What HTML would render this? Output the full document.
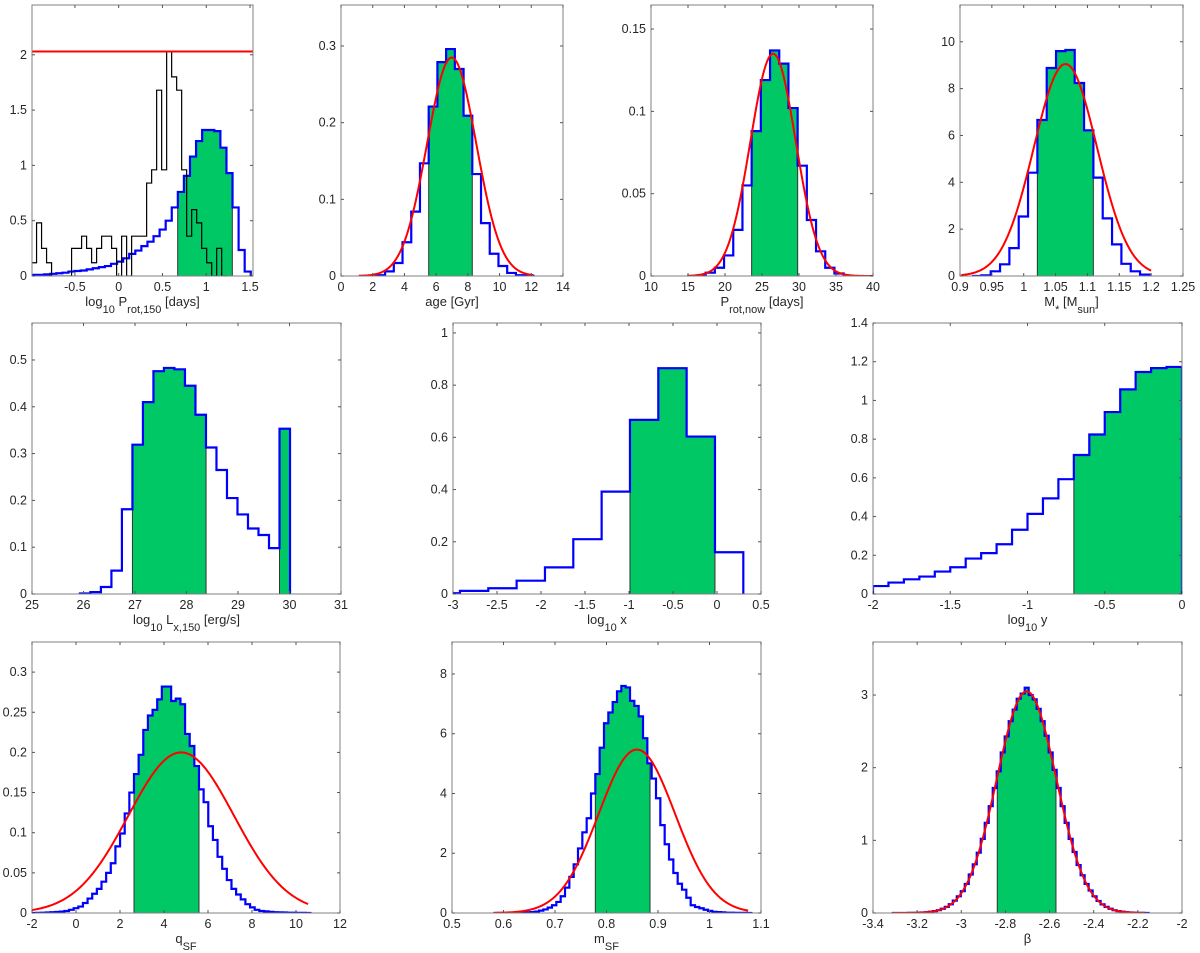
<!DOCTYPE html>
<html><head><meta charset="utf-8">
<style>
html,body{margin:0;padding:0;background:#fff;}
svg{display:block;font-family:"Liberation Sans",Arial,sans-serif;}
</style></head>
<body>
<svg id="fig" width="1200" height="953" viewBox="0 0 1200 953" xmlns="http://www.w3.org/2000/svg"></svg>
<script>
// ---------- data ----------
const protBinStart = -0.99, protBinWidth = 0.0694;
const protHeights = [0.01,0.01,0.015,0.02,0.025,0.03,0.04,0.045,0.05,0.06,0.07,0.08,0.09,0.11,0.13,0.16,0.2,0.23,0.27,0.31,0.36,0.42,0.5,0.62,0.76,0.905,1.08,1.22,1.32,1.32,1.31,1.16,0.93,0.62,0.235,0.04];
const protCI = [[0.674,1.298]];
const obsBinStart = -0.995, obsBinWidth = 0.05714;
const obsHeights = [0.12,0.48,0.25,0.12,0,0,0,0,0.25,0.25,0.36,0.25,0.12,0.25,0.36,0.36,0.25,0,0.36,0,0.36,0.36,0.36,0.84,0.96,1.68,0.96,2.03,1.8,1.68,0.96,0.36,0.6,0.48,0.25,0.12,0,0.25,0];
const obsMaxLine = [2.03];
const ageBinStart = 1.13, ageBinWidth = 0.55;
const ageHeights = [0,0,0.001,0.006,0.017,0.044,0.084,0.147,0.221,0.279,0.296,0.27,0.209,0.133,0.069,0.029,0.013,0.004,0.001,0.0005];
const ageCI = [[5.53,8.28]];
const ageFit = [6.98,1.55,0.285,1.13,12.1];
const pnowBinStart = 14.9, pnowBinWidth = 1.243;
const pnowHeights = [0,0.0003,0.002,0.005,0.0125,0.028,0.055,0.088,0.119,0.137,0.129,0.102,0.067,0.034,0.015,0.005,0.0015,0.0002];
const pnowCI = [[23.6,29.82]];
const pnowFit = [26.5,3.06,0.135,14.9,40];
const massBinStart = 0.9189, massBinWidth = 0.01465;
const massHeights = [0,0.03,0.2,0.5,1.19,2.54,4.41,6.66,8.88,9.6,9.65,8.24,6.22,4.2,2.46,1.35,0.52,0.2,0.06];
const massCI = [[1.0214,1.1093]];
const massFit = [1.0655,0.0496,9.05,0.902,1.2];
const lxBinStart = 25.93, lxBinWidth = 0.204;
const lxHeights = [0.001,0.004,0.015,0.05,0.181,0.319,0.41,0.476,0.483,0.48,0.445,0.383,0.313,0.265,0.205,0.17,0.14,0.126,0.098,0.353];
const lxCI = [[26.95,28.38],[29.806,30.01]];
const lxxBinStart = -3.243, lxxBinWidth = 0.322;
const lxxHeights = [0.003,0.012,0.022,0.051,0.102,0.21,0.392,0.667,0.865,0.603,0.16];
const lxxCI = [[-0.989,-0.023]];
const lyBinStart = -2, lyBinWidth = 0.1;
const lyHeights = [0.041,0.059,0.076,0.09,0.116,0.138,0.183,0.211,0.257,0.332,0.414,0.494,0.593,0.718,0.824,0.94,1.057,1.147,1.167,1.173];
const lyCI = [[-0.7,0]];
const qBinStart = -2.006, qBinWidth = 0.211;
const qHeights = [0.0001,0.0002,0.0004,0.0006,0.0009,0.0012,0.0018,0.0025,0.004,0.006,0.008,0.0125,0.018,0.024,0.03,0.039,0.05,0.062,0.083,0.099,0.124,0.15,0.173,0.197,0.228,0.246,0.253,0.266,0.282,0.282,0.264,0.267,0.26,0.223,0.208,0.183,0.154,0.138,0.108,0.091,0.07,0.055,0.041,0.03,0.023,0.017,0.011,0.007,0.004,0.0025,0.002,0.0015,0.001,0.0008,0.0006,0.0004,0.0003,0.0002,0.0002,0.0001];
const qCI = [[2.636,5.59]];
const qFit = [4.78,2.4,0.2,-2,10.55];
const mBinStart = 0.5848, mBinWidth = 0.008414;
const mHeights = [0.001,0.001,0.002,0.004,0.006,0.01,0.015,0.02,0.03,0.045,0.08,0.12,0.18,0.26,0.37,0.56,0.85,1.21,1.63,2.16,2.7,3.17,4.0,4.65,5.53,6.35,6.71,7.06,7.42,7.6,7.55,7.1,6.93,6.58,5.85,5.01,4.5,3.84,2.94,2.3,1.79,1.34,0.98,0.78,0.51,0.26,0.2,0.16,0.11,0.07,0.04,0.03,0.02,0.01,0.01,0.005,0.005,0.003,0.002];
const mCI = [[0.7783,0.8845]];
const mFit = [0.859,0.0742,5.47,0.58,1.075];
const bBinStart = -3.31, bBinWidth = 0.0181;
const bHeights = [0.0002,0.0003,0.0005,0.0009,0.0016,0.0027,0.0043,0.007,0.011,0.017,0.026,0.039,0.058,0.084,0.12,0.17,0.23,0.3,0.4,0.53,0.67,0.83,1.02,1.24,1.47,1.72,1.95,2.21,2.43,2.64,2.8,2.95,3.02,3.1,3.0,2.94,2.81,2.64,2.44,2.21,1.97,1.72,1.47,1.24,1.02,0.84,0.66,0.52,0.4,0.31,0.23,0.166,0.119,0.084,0.058,0.039,0.026,0.017,0.011,0.007,0.0043,0.0027,0.0016,0.0009];
const bCI = [[-2.837,-2.571]];
const bFit = [-2.704,0.1347,3.05,-3.31,-2.17];

const t1x=['-0.5','0','0.5','1','1.5'], t1y=['0','0.5','1','1.5','2'];
const t2x=['0','2','4','6','8','10','12','14'], t2y=['0','0.1','0.2','0.3'];
const t3x=['10','15','20','25','30','35','40'], t3y=['0','0.05','0.1','0.15'];
const t4x=['0.9','0.95','1','1.05','1.1','1.15','1.2','1.25'], t4y=['0','2','4','6','8','10'];
const t5x=['25','26','27','28','29','30','31'], t5y=['0','0.1','0.2','0.3','0.4','0.5'];
const t6x=['-3','-2.5','-2','-1.5','-1','-0.5','0','0.5'], t6y=['0','0.2','0.4','0.6','0.8','1'];
const t7x=['-2','-1.5','-1','-0.5','0'], t7y=['0','0.2','0.4','0.6','0.8','1','1.2','1.4'];
const t8x=['-2','0','2','4','6','8','10','12'], t8y=['0','0.05','0.1','0.15','0.2','0.25','0.3'];
const t9x=['0.5','0.6','0.7','0.8','0.9','1','1.1'], t9y=['0','2','4','6','8'];
const t10x=['-3.4','-3.2','-3','-2.8','-2.6','-2.4','-2.2','-2'], t10y=['0','1','2','3'];

const R1=[5,276], R2=[323,594], R3=[642,913];
const panels = [
 {id:'prot150', box:[32,R1[0],253,R1[1]], xr:[-0.99,1.534], ymax:2.45, xt:t1x, yt:t1y, bs:protBinStart, bw:protBinWidth, h:protHeights, ci:protCI, fit:null, obs:true,
  label:[['log',0],['10',1],[' P',0],['rot,150',1],['   [days]',0]]},
 {id:'age', box:[341,R1[0],563,R1[1]], xr:[0,14], ymax:0.3535, xt:t2x, yt:t2y, bs:ageBinStart, bw:ageBinWidth, h:ageHeights, ci:ageCI, fit:ageFit, label:[['age [Gyr]',0]]},
 {id:'prot-now', box:[651,R1[0],873,R1[1]], xr:[10,40], ymax:0.1646, xt:t3x, yt:t3y, bs:pnowBinStart, bw:pnowBinWidth, h:pnowHeights, ci:pnowCI, fit:pnowFit, label:[['P',0],['rot,now',1],['   [days]',0]]},
 {id:'mass', box:[960,R1[0],1183,R1[1]], xr:[0.9,1.25], ymax:11.57, xt:t4x, yt:t4y, bs:massBinStart, bw:massBinWidth, h:massHeights, ci:massCI, fit:massFit, label:[['M',0],['*',1],[' [M',0],['sun',1],[']',0]]},
 {id:'lx150', box:[32,R2[0],341,R2[1]], xr:[25,31], ymax:0.579, xt:t5x, yt:t5y, bs:lxBinStart, bw:lxBinWidth, h:lxHeights, ci:lxCI, fit:null, label:[['log',0],['10',1],[' L',0],['x,150',1],['   [erg/s]',0]]},
 {id:'log-x', box:[453,R2[0],761,R2[1]], xr:[-3,0.5], ymax:1.038, xt:t6x, yt:t6y, bs:lxxBinStart, bw:lxxBinWidth, h:lxxHeights, ci:lxxCI, fit:null, label:[['log',0],['10',1],[' x',0]]},
 {id:'log-y', box:[873,R2[0],1182,R2[1]], xr:[-2,0], ymax:1.4, xt:t7x, yt:t7y, bs:lyBinStart, bw:lyBinWidth, h:lyHeights, ci:lyCI, fit:null, label:[['log',0],['10',1],[' y',0]]},
 {id:'q-sf', box:[32,R3[0],340,R3[1]], xr:[-2,12], ymax:0.3375, xt:t8x, yt:t8y, bs:qBinStart, bw:qBinWidth, h:qHeights, ci:qCI, fit:qFit, label:[['q',0],['SF',1]]},
 {id:'m-sf', box:[452,R3[0],761,R3[1]], xr:[0.5,1.1], ymax:9.07, xt:t9x, yt:t9y, bs:mBinStart, bw:mBinWidth, h:mHeights, ci:mCI, fit:mFit, label:[['m',0],['SF',1]]},
 {id:'beta', box:[873,R3[0],1182,R3[1]], xr:[-3.4,-2], ymax:3.73, xt:t10x, yt:t10y, bs:bBinStart, bw:bBinWidth, h:bHeights, ci:bCI, fit:bFit, label:[['\u03B2',0]]}
];

const NS='http://www.w3.org/2000/svg';
const svg=document.getElementById('fig');
function mk(tag, parent){const e=document.createElementNS(NS,tag); parent.appendChild(e); return e;}

panels.forEach((p,pi)=>{
  const [x0,y0,x1,y1]=p.box;
  const sx=v=>x0+(v-p.xr[0])/(p.xr[1]-p.xr[0])*(x1-x0);
  const sy=v=>y1-v/p.ymax*(y1-y0);
  const g=mk('g',svg);
  
  
  const cp=mk('clipPath',g); cp.setAttribute('id','clip'+pi);
  const cr=mk('rect',cp); cr.setAttribute('x',x0); cr.setAttribute('y',y0); cr.setAttribute('width',x1-x0); cr.setAttribute('height',y1-y0);
  const bg=mk('rect',g); bg.setAttribute('x',x0); bg.setAttribute('y',y0); bg.setAttribute('width',x1-x0); bg.setAttribute('height',y1-y0); bg.setAttribute('fill','#fff');
  
  
  const pg=mk('g',g); pg.setAttribute('clip-path','url(#clip'+pi+')');
  const edges=i=>p.bs+i*p.bw;
  p.ci.forEach(([lo,hi])=>{
    let d='M'+sx(lo)+','+sy(0);
    for(let i=0;i<p.h.length;i++){
      const a=Math.max(edges(i),lo), b=Math.min(edges(i+1),hi);
      if(b<=a) continue;
      d+=' L'+sx(a)+','+sy(p.h[i])+' L'+sx(b)+','+sy(p.h[i]);
    }
    d+=' L'+sx(hi)+','+sy(0)+' Z';
    const f=mk('path',pg); f.setAttribute('d',d); f.setAttribute('fill','#00c864'); f.setAttribute('stroke','#333'); f.setAttribute('stroke-width','1');
    
    
  });
  let d='M'+sx(edges(0))+','+sy(0);
  p.h.forEach((v,i)=>{ d+=' L'+sx(edges(i))+','+sy(v)+' L'+sx(edges(i+1))+','+sy(v); });
  d+=' L'+sx(edges(p.h.length))+','+sy(0);
  const hl=mk('path',pg); hl.setAttribute('d',d); hl.setAttribute('fill','none'); hl.setAttribute('stroke','#0000ff'); hl.setAttribute('stroke-width','2.2');
  
  
  if(p.obs){
    let od='M'+sx(obsBinStart)+','+sy(0);
    obsHeights.forEach((v,i)=>{ const a=obsBinStart+i*obsBinWidth; od+=' L'+sx(a)+','+sy(v)+' L'+sx(a+obsBinWidth)+','+sy(v); });
    od+=' L'+sx(obsBinStart+obsHeights.length*obsBinWidth)+','+sy(0);
    const ol=mk('path',pg); ol.setAttribute('d',od); ol.setAttribute('fill','none'); ol.setAttribute('stroke','#000'); ol.setAttribute('stroke-width','1.2');
    
    
    const rl=mk('line',pg); rl.setAttribute('x1',x0); rl.setAttribute('x2',x1); rl.setAttribute('y1',sy(obsMaxLine[0])); rl.setAttribute('y2',sy(obsMaxLine[0])); rl.setAttribute('stroke','#ff0000'); rl.setAttribute('stroke-width','2');
    
    
  }
  if(p.fit){
    const [mu,sg,pk,a,b]=p.fit; let fd='';
    for(let k=0;k<=200;k++){const x=a+(b-a)*k/200; const y=pk*Math.exp(-0.5*((x-mu)/sg)**2); fd+=(k?' L':'M')+sx(x).toFixed(2)+','+sy(y).toFixed(2);}
    const fl=mk('path',pg); fl.setAttribute('d',fd); fl.setAttribute('fill','none'); fl.setAttribute('stroke','#ff0000'); fl.setAttribute('stroke-width','2');
    
    
  }
  const fr=mk('rect',g); fr.setAttribute('x',x0); fr.setAttribute('y',y0); fr.setAttribute('width',x1-x0); fr.setAttribute('height',y1-y0); fr.setAttribute('fill','none'); fr.setAttribute('stroke','#808080'); fr.setAttribute('stroke-width','1');
  
  
  p.xt.forEach(t=>{
    const x=sx(parseFloat(t));
    [[y1,y1-3],[y0,y0+3]].forEach(([a,b])=>{const l=mk('line',g); l.setAttribute('x1',x); l.setAttribute('x2',x); l.setAttribute('y1',a); l.setAttribute('y2',b); l.setAttribute('stroke','#555');});
    const tx=mk('text',g); tx.setAttribute('x',x); tx.setAttribute('y',y1+15); tx.setAttribute('text-anchor','middle'); tx.setAttribute('font-size','12.5'); tx.setAttribute('fill','#262626'); tx.textContent=t;
    
    
  });
  p.yt.forEach(t=>{
    const y=sy(parseFloat(t));
    [[x0,x0+3],[x1,x1-3]].forEach(([a,b])=>{const l=mk('line',g); l.setAttribute('x1',a); l.setAttribute('x2',b); l.setAttribute('y1',y); l.setAttribute('y2',y); l.setAttribute('stroke','#555');});
    const tx=mk('text',g); tx.setAttribute('x',x0-5); tx.setAttribute('y',y+4); tx.setAttribute('text-anchor','end'); tx.setAttribute('font-size','12.5'); tx.setAttribute('fill','#262626'); tx.textContent=t;
    
    
  });
  const lb=mk('text',g); lb.setAttribute('x',(x0+x1)/2); lb.setAttribute('y',y1+30); lb.setAttribute('text-anchor','middle'); lb.setAttribute('font-size','13'); lb.setAttribute('fill','#262626'); lb.setAttribute('xml:space','preserve');
  
  
  let cur=0;
  p.label.forEach(([s,sub])=>{const ts=mk('tspan',lb); const target=sub?7:0; ts.setAttribute('dy',target-cur); cur=target; if(sub) ts.setAttribute('font-size','11'); ts.textContent=s;});
});
</script>
</body></html>
